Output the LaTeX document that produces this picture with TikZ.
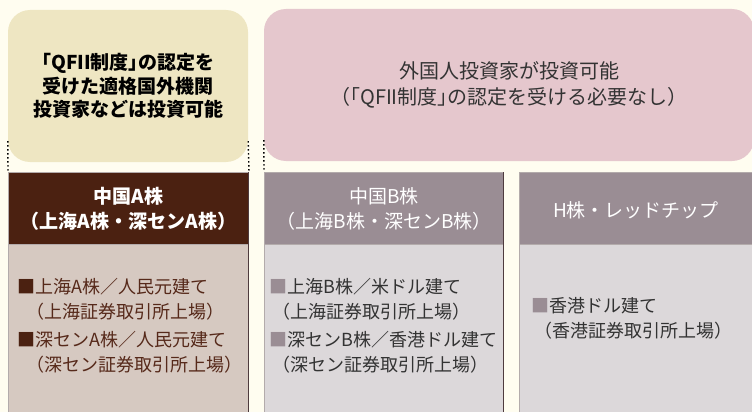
\documentclass[tikz,border=0pt]{standalone}
\usepackage{fontspec}
\setmainfont{Noto Sans CJK JP}
\newcommand\hw[1]{{\addfontfeatures{RawFeature=+halt}#1}}
\definecolor{bgc}{HTML}{FFFDF0}
\definecolor{creamc}{HTML}{EEE6C2}
\definecolor{pinkc}{HTML}{E5C7CD}
\definecolor{brownc}{HTML}{4B2111}
\definecolor{abodyc}{HTML}{D6C9C1}
\definecolor{mauvec}{HTML}{9A8D94}
\definecolor{bbodyc}{HTML}{DCD8DA}
\definecolor{borderc}{HTML}{B3ABAB}
\definecolor{shadowc}{HTML}{4E3B3E}
\definecolor{atextc}{HTML}{56291A}
\definecolor{btextc}{HTML}{333333}
\tikzset{
  topbox/.style={rounded corners=22pt, inner sep=0pt, minimum height=152pt, align=center},
  headbox/.style={draw=borderc, line width=1pt, inner sep=0pt, minimum height=72pt, anchor=north west, align=center, text=white},
  bodybox/.style={draw=borderc, line width=1pt, inner sep=0pt, minimum height=180pt, anchor=north west},
  item/.style={anchor=west, align=left, inner sep=0pt, font=\fontsize{18pt}{25pt}\selectfont},
  shadowline/.style={draw=shadowc, line width=1.5pt},
  dotline/.style={draw=black, line width=1.4pt, dash pattern=on 1.4pt off 2.6pt},
  fs/.style={font=\fontsize{19pt}{25pt}\selectfont}
}
\begin{document}
\begin{tikzpicture}[x=1pt, y=-1pt]
\useasboundingbox (0,0) rectangle (752,412);
\fill[bgc] (0,0) rectangle (752,412);
\clip (0,0) rectangle (752,412);

% top boxes
\node[topbox, fill=creamc, minimum width=240pt, font=\fontsize{19pt}{23.5pt}\selectfont\bfseries] (qfii) at (128,86)
  {\hw{「}QFII制度\hw{」}の認定を\\受けた適格国外機関\\投資家などは投資可能};
\node[topbox, fill=pinkc, minimum width=490pt, text=btextc, font=\fontsize{20pt}{26pt}\selectfont] (foreign) at (509,85)
  {外国人投資家が投資可能\\（\hw{「}QFII制度\hw{」}の認定を受ける必要なし）};

% panel A
\node[bodybox, fill=abodyc, minimum width=240pt] (abody) at (8,244) {};
\node[headbox, fill=brownc, minimum width=240pt, font=\fontsize{19pt}{25pt}\selectfont\bfseries] (ahead) at (8,172)
  {中国A株\\（上海A株・深センA株）};
\draw[shadowline] ([xshift=-0.75pt]ahead.north east) -- ([xshift=-0.75pt]abody.south east);

% panel B
\node[bodybox, fill=bbodyc, minimum width=239pt] (bbody) at (264,244) {};
\node[headbox, fill=mauvec, minimum width=239pt, fs] (bhead) at (264,172)
  {中国B株\\（上海B株・深センB株）};
\draw[shadowline] ([xshift=-0.75pt]bhead.north east) -- ([xshift=-0.75pt]bbody.south east);

% panel H
\node[bodybox, fill=bbodyc, minimum width=240pt] (hbody) at (519,244) {};
\node[headbox, fill=mauvec, minimum width=240pt, fs] (hhead) at (519,172) {};
\node[fs, text=white, inner sep=0pt] (htitle) at (636,210) {H株・レッドチップ};

% dotted guides
\draw[dotline] ([yshift=21pt]qfii.south west) -- (ahead.north west);
\draw[dotline] ([yshift=21pt]qfii.south east) -- (ahead.north east);
\draw[dotline] ([yshift=21pt]foreign.south west) -- (bhead.north west);

% items A
\node[item, text=atextc] (a1) at (17,299.5)
  {\textcolor{brownc}{■}上海A株／人民元建て\\\hspace*{9pt}（上海証券取引所上場）};
\node[item, text=atextc] (a2) at (17,352.5)
  {\textcolor{brownc}{■}深センA株／人民元建て\\\hspace*{9pt}（深セン証券取引所上場）};

% items B
\node[item, text=btextc] (b1) at (269,299.5)
  {\textcolor{mauvec}{■}上海B株／米ドル建て\\\hspace*{3pt}（上海証券取引所上場）};
\node[item, text=btextc] (b2) at (269,352.5)
  {\textcolor{mauvec}{■}深センB株／香港ドル建て\\\hspace*{3pt}（深セン証券取引所上場）};

% items H
\node[item, text=btextc] (h1) at (531,318)
  {\textcolor{mauvec}{■}香港ドル建て\\\hspace*{3pt}（香港証券取引所上場）};
\end{tikzpicture}
\end{document}
